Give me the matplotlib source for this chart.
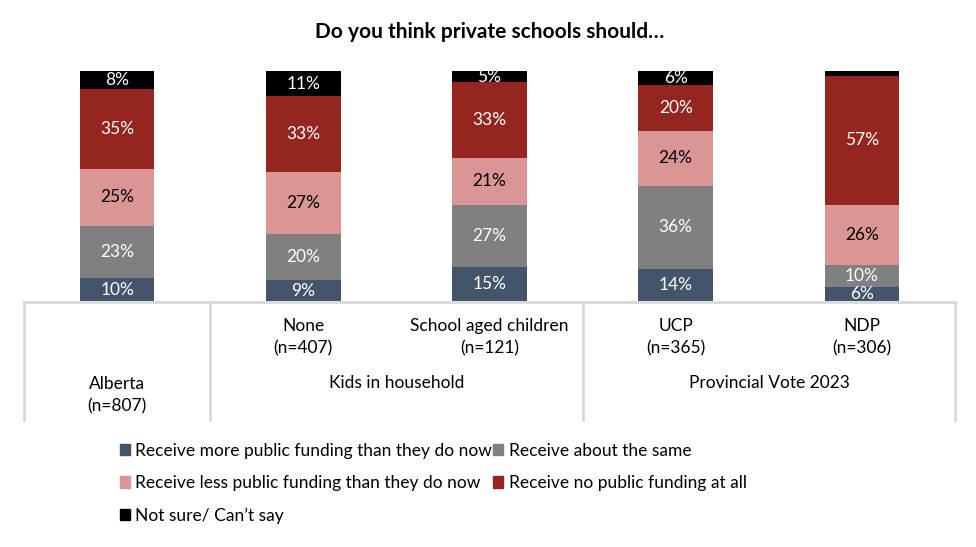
import matplotlib.pyplot as plt
from matplotlib.patches import Patch
from matplotlib.lines import Line2D

plt.rcParams['font.family'] = ['Lato', 'DejaVu Sans']

# data
groups = ["Alberta\n(n=807)", "None\n(n=407)", "School aged children\n(n=121)",
          "UCP\n(n=365)", "NDP\n(n=306)"]
series = ["Receive more public funding than they do now", "Receive about the same",
          "Receive less public funding than they do now", "Receive no public funding at all",
          "Not sure/ Can\u2019t say"]
more_funding = [10, 9, 15, 14, 6]
about_same = [23, 20, 27, 36, 10]
less_funding = [25, 27, 21, 24, 26]
no_funding = [35, 33, 33, 20, 57]
not_sure = [8, 11, 5, 6, 2]
section_names = ["Kids in household", "Provincial Vote 2023"]

colors = ["#44546A", "#808080", "#DA9694", "#94261F", "#000000"]
text_colors = ["white", "white", "black", "white", "white"]

values = [more_funding, about_same, less_funding, no_funding, not_sure]
totals = [sum(col) for col in zip(*values)]

fig = plt.figure(figsize=(9.76, 5.47), dpi=100)
ax = fig.add_axes([24 / 976, 1 - 301 / 547, 931 / 976, 230 / 547])

x = list(range(len(groups)))
bottom = [0.0] * len(groups)
for vals, col, tc in zip(values, colors, text_colors):
    h = [v / t * 100 for v, t in zip(vals, totals)]
    ax.bar(x, h, bottom=bottom, width=0.4, color=col, linewidth=0)
    for i in x:
        if vals[i] >= 3:
            ax.text(i, bottom[i] + h[i] / 2, f"{vals[i]}%", ha="center", va="center",
                    color=tc, fontsize=12.5)
    bottom = [b + hh for b, hh in zip(bottom, h)]

ax.set_xlim(-0.5, 4.5)
ax.set_ylim(0, 100)
ax.axis("off")

fig.text(0.502, 1 - 32 / 547, "Do you think private schools should\u2026", ha="center", va="center",
         fontsize=15, fontweight="bold")

# category table below bars
line_col = "#D9D9D9"
ytop = 1 - 302 / 547
ybot = 1 - 420 / 547
fig.add_artist(Line2D([24 / 976, 955 / 976], [ytop, ytop], color=line_col, lw=2))
for px in [24, 210, 583, 955]:
    fig.add_artist(Line2D([px / 976, px / 976], [ytop, ybot], color=line_col, lw=2))

for i, g in enumerate(groups):
    xf = (24 + (i + 0.5) * 931 / 5) / 976
    yc = 395 if i == 0 else 337
    fig.text(xf, 1 - yc / 547, g, ha="center", va="center", fontsize=12.5, linespacing=1.5)
fig.text((210 + 583) / 2 / 976, 1 - 383 / 547, section_names[0], ha="center", va="center", fontsize=12.5)
fig.text((583 + 955) / 2 / 976, 1 - 383 / 547, section_names[1], ha="center", va="center", fontsize=12.5)

handles = [Patch(color=c) for c in colors]
order = [0, 2, 4, 1, 3]
fig.legend([handles[k] for k in order], [series[k] for k in order], ncol=2,
           loc="upper left", bbox_to_anchor=(104 / 976, 1 - 427 / 547), frameon=False,
           fontsize=12.5, handlelength=0.6, handleheight=0.6, handletextpad=0.3,
           labelspacing=0.95, columnspacing=0.05)

fig.savefig("out.png", dpi=100)
